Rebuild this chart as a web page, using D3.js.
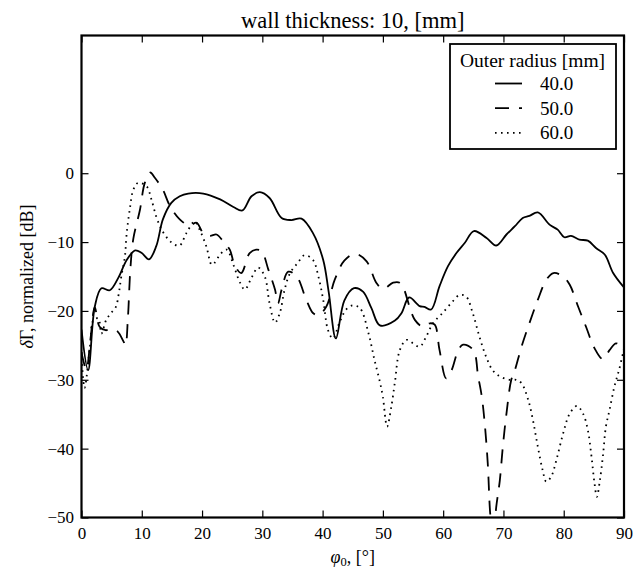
<!DOCTYPE html>
<html>
<head>
<meta charset="utf-8">
<script src="https://cdn.jsdelivr.net/npm/d3@7"></script>
<style>
  body { margin: 0; background: #fff; }
  svg { display: block; font-family: "Liberation Serif", "DejaVu Serif", serif; }
  .tick text { font-size: 17px; fill: #000; }
</style>
</head>
<body>
<svg id="chart"></svg>
<script>
// data: phi0 in degrees, normalized dB
const r40Phi = [0, 1.1, 2.2, 3.3, 4.7, 6.1, 7.5, 8.9, 10.0, 11.2, 12.4, 13.5, 14.9, 16.3, 17.7, 20.2, 23.0, 25.2, 26.7, 28.2, 29.6, 31.2, 33.2, 34.8, 36.5, 38.4, 40.1, 41.0, 42.2, 43.6, 45.2, 46.7, 48.1, 49.5, 52.0, 53.1, 54.35, 56.1, 56.9, 58.0, 59.4, 60.8, 62.2, 63.6, 65.1, 67.2, 68.8, 70.5, 71.9, 73.2, 74.3, 75.7, 77.7, 79.0, 80.1, 81.2, 82.6, 84.0, 85.4, 86.8, 88.2, 90];
const r40Db = [-22.7, -28.6, -19.4, -16.7, -17.0, -15.2, -12.6, -11.2, -11.6, -12.5, -10.6, -6.7, -4.3, -3.35, -2.95, -2.95, -3.8, -4.9, -5.4, -3.35, -2.76, -3.6, -6.5, -6.8, -6.6, -8.7, -12.6, -17.2, -24.0, -18.5, -16.7, -17.2, -19.6, -22.1, -21.4, -20.3, -18.05, -19.3, -19.4, -19.8, -16.4, -13.5, -11.6, -10.1, -8.4, -9.4, -10.5, -8.9, -7.7, -6.5, -6.2, -5.7, -7.5, -8.2, -9.3, -9.1, -9.65, -9.8, -10.9, -11.8, -14.5, -16.6];

const r50Phi = [0, 0.8, 1.5, 2.2, 3.0, 4.0, 5.0, 6.0, 7.0, 7.3, 7.7, 8.1, 8.6, 9.7, 10.5, 11.4, 12.2, 13.5, 14.7, 16.3, 17.9, 19.1, 20.2, 21.3, 22.4, 23.5, 24.6, 25.4, 26.5, 27.9, 29.0, 29.9, 31.0, 32.1, 32.6, 33.2, 34.3, 35.7, 37.3, 38.4, 39.3, 40.6, 42.0, 43.6, 45.4, 47.3, 48.9, 50.0, 51.7, 52.8, 53.3, 55.3, 56.7, 57.8, 58.6, 59.4, 60.5, 61.4, 62.5, 63.3, 65.0, 65.8, 66.4, 66.9, 67.4, 67.8, 68.3, 68.8, 69.4, 69.9, 70.5, 71.3, 71.9, 73.0, 74.3, 75.7, 77.1, 78.3, 79.9, 81.0, 82.4, 83.7, 85.1, 86.5, 87.6, 88.7, 90];
const r50Db = [-26.0, -28.5, -24.0, -19.5, -22.3, -22.8, -22.6, -23.0, -24.5, -25.0, -21.0, -14.0, -9.5, -5.3, -1.4, 0.1, -0.7, -2.4, -4.8, -6.7, -7.6, -7.2, -8.7, -9.1, -8.9, -9.9, -11.1, -13.3, -14.5, -11.6, -11.1, -11.35, -14.0, -16.9, -18.9, -16.9, -14.3, -15.0, -18.4, -20.3, -20.6, -19.4, -15.5, -12.7, -11.7, -12.8, -15.9, -16.8, -15.9, -15.9, -16.4, -21.3, -22.3, -21.8, -22.0, -25.7, -29.8, -28.6, -25.7, -24.9, -25.7, -29.5, -32.4, -36.4, -42.2, -49.4, -53.5, -48.5, -44.6, -39.7, -34.9, -30.0, -28.6, -25.2, -21.8, -18.4, -15.5, -14.5, -15.0, -16.2, -19.4, -22.3, -25.4, -27.0, -25.7, -24.7, -25.8];

const r60Phi = [0, 0.5, 1.4, 2.0, 2.8, 3.3, 4.1, 4.9, 5.7, 6.2, 6.6, 7.2, 7.5, 8.0, 8.6, 9.4, 10.8, 11.6, 12.4, 13.3, 14.4, 15.5, 16.3, 17.4, 18.8, 19.6, 20.7, 21.6, 22.1, 23.0, 24.1, 25.2, 26.3, 27.1, 28.2, 29.3, 30.4, 31.2, 32.1, 32.9, 33.7, 34.6, 35.9, 37.0, 38.4, 39.3, 40.1, 40.9, 41.7, 42.8, 43.9, 45.0, 46.2, 47.6, 48.6, 49.5, 50.0, 50.7, 51.4, 52.0, 52.8, 53.9, 55.0, 56.1, 57.2, 58.3, 59.9, 61.6, 62.7, 63.8, 64.9, 66.0, 67.1, 68.2, 69.4, 71.0, 72.1, 73.0, 74.1, 74.9, 75.7, 76.5, 77.1, 77.9, 78.8, 79.9, 81.0, 82.2, 83.2, 84.0, 84.6, 85.1, 85.5, 86.0, 86.5, 87.0, 87.6, 88.4, 89.2, 90];
const r60Db = [-26.0, -31.2, -25.2, -21.3, -21.1, -23.3, -21.3, -20.3, -19.4, -17.4, -15.0, -12.1, -8.7, -5.3, -2.4, -1.4, -1.9, -3.8, -6.3, -8.2, -9.6, -10.4, -10.5, -8.7, -7.0, -8.2, -10.6, -13.3, -13.0, -11.8, -11.1, -13.3, -15.9, -16.9, -15.2, -13.7, -15.0, -18.9, -21.7, -20.3, -16.9, -14.5, -13.0, -11.9, -12.6, -15.0, -18.4, -22.8, -24.0, -21.7, -19.8, -19.2, -19.6, -23.2, -27.1, -30.3, -32.5, -36.8, -33.9, -30.3, -25.7, -24.2, -24.7, -25.2, -23.7, -21.8, -20.3, -18.6, -17.7, -17.9, -20.3, -23.7, -26.6, -28.6, -29.5, -30.0, -30.0, -30.5, -32.9, -35.9, -39.7, -43.1, -44.8, -44.1, -41.6, -37.8, -34.9, -33.8, -34.9, -37.3, -41.1, -45.0, -47.0, -44.6, -41.1, -36.8, -34.4, -31.0, -28.5, -25.5];

const seriesLabels = ["40.0", "50.0", "60.0"];
const xTicks = [0, 10, 20, 30, 40, 50, 60, 70, 80, 90];
const yTicks = [-50, -40, -30, -20, -10, 0];

// layout
const width = 644;
const height = 574;
const margin = { top: 35.5, right: 20, bottom: 56.5, left: 81.5 };
const plotW = width - margin.left - margin.right;
const plotH = height - margin.top - margin.bottom;
const tickLen = 7;

const dashStyles = [null, "14,10", "1.6,4.4"];

const svg = d3.select("#chart").attr("width", width).attr("height", height);
svg.append("rect").attr("width", width).attr("height", height).attr("fill", "#fff");

const g = svg.append("g").attr("transform", `translate(${margin.left},${margin.top})`);

const x = d3.scaleLinear().domain([0, 90]).range([0, plotW]);
const y = d3.scaleLinear().domain([-50, 20]).range([plotH, 0]);

g.append("clipPath").attr("id", "clip")
  .append("rect").attr("width", plotW).attr("height", plotH);

/* ============================================================
   CURVES
   ============================================================ */

const series = [
  { phi: r40Phi, db: r40Db },
  { phi: r50Phi, db: r50Db },
  { phi: r60Phi, db: r60Db },
];

const line = d3.line()
  .x((d) => x(d[0]))
  .y((d) => y(d[1]))
  .curve(d3.curveCatmullRom.alpha(0.5));

series.forEach((s, i) => {
  const pts = s.phi.map((p, j) => [p, s.db[j]]);
  g.append("path")
    .attr("clip-path", "url(#clip)")
    .attr("d", line(pts))
    .attr("fill", "none")
    .attr("stroke", "#000")
    .attr("stroke-width", 1.8)
    .attr("stroke-dasharray", dashStyles[i]);
});

/* ============================================================
   AXES (inward ticks on all four sides)
   ============================================================ */

function styleAxis(sel) {
  sel.select(".domain").remove();
  sel.selectAll(".tick line").attr("stroke", "#000").attr("stroke-width", 1.2);
}

g.append("g")
  .attr("transform", `translate(0,${plotH})`)
  .call(d3.axisBottom(x).tickValues(xTicks).tickSize(-tickLen).tickPadding(9.5).tickFormat(d3.format("d")))
  .call(styleAxis)
  .call((a) => a.selectAll("text").attr("font-family", "Liberation Serif"));

g.append("g")
  .call(d3.axisTop(x).tickValues(xTicks).tickSize(-tickLen).tickFormat(""))
  .call(styleAxis);

g.append("g")
  .call(d3.axisLeft(y).tickValues(yTicks).tickSize(-tickLen).tickPadding(7.5).tickFormat((d) => d < 0 ? "\u2212" + Math.abs(d) : d))
  .call(styleAxis)
  .call((a) => a.selectAll("text").attr("font-family", "Liberation Serif"));

g.append("g")
  .attr("transform", `translate(${plotW},0)`)
  .call(d3.axisRight(y).tickValues(yTicks).tickSize(-tickLen).tickFormat(""))
  .call(styleAxis);

// frame
g.append("rect")
  .attr("width", plotW)
  .attr("height", plotH)
  .attr("fill", "none")
  .attr("stroke", "#000")
  .attr("stroke-width", 2.2);

/* ============================================================
   TEXT
   ============================================================ */

svg.append("text")
  .attr("x", margin.left + plotW / 2)
  .attr("y", 28)
  .attr("text-anchor", "middle")
  .attr("font-size", 22.5)
  .text("wall thickness: 10, [mm]");

const xLabel = svg.append("text")
  .attr("x", margin.left + plotW / 2)
  .attr("y", 563)
  .attr("text-anchor", "middle")
  .attr("font-size", 18);
xLabel.append("tspan").attr("font-style", "italic").text("φ");
xLabel.append("tspan").attr("font-size", 12.5).attr("dy", 3).text("0");
xLabel.append("tspan").attr("dy", -3).text(", [°]");

const yLabel = svg.append("text")
  .attr("transform", `translate(33,${margin.top + plotH / 2}) rotate(-90)`)
  .attr("text-anchor", "middle")
  .attr("font-size", 18);
yLabel.append("tspan").attr("font-style", "italic").text("δ");
yLabel.append("tspan").text("Γ, normalized [dB]");

/* ============================================================
   LEGEND
   ============================================================ */

const legend = svg.append("g").attr("transform", "translate(450,44)");

legend.append("rect")
  .attr("width", 166)
  .attr("height", 105)
  .attr("fill", "#fff")
  .attr("stroke", "#000")
  .attr("stroke-width", 1.8);

legend.append("text")
  .attr("x", 82.5)
  .attr("y", 22.5)
  .attr("text-anchor", "middle")
  .attr("font-size", 19.5)
  .text("Outer radius [mm]");

seriesLabels.forEach((lab, i) => {
  const ly = 39.5 + i * 24.7;
  legend.append("line")
    .attr("x1", 45).attr("x2", 72)
    .attr("y1", ly).attr("y2", ly)
    .attr("stroke", "#000")
    .attr("stroke-width", 1.8)
    .attr("stroke-dasharray", dashStyles[i]);
  legend.append("text")
    .attr("x", 90)
    .attr("y", ly + 6.5)
    .attr("font-size", 19)
    .text(lab);
});
</script>
</body>
</html>
